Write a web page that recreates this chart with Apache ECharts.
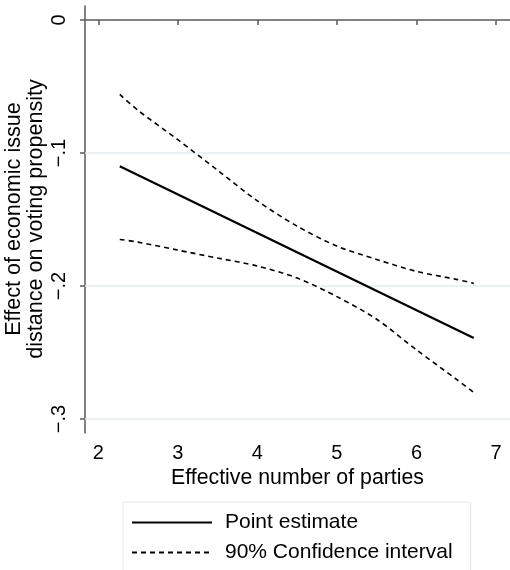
<!DOCTYPE html>
<html>
<head>
<meta charset="utf-8">
<script src="https://cdn.jsdelivr.net/npm/echarts@6/dist/echarts.min.js"></script>
<style>
  html, body { margin: 0; padding: 0; background: #fff; }
  #chart { width: 510px; height: 570px; }
</style>
</head>
<body>
<div id="chart"></div>
<script>
// effective number of parties (x)
const parties = [2.27, 2.5, 3, 3.5, 4, 4.5, 5, 5.5, 6, 6.5, 6.72];
// 90% bounds of the marginal effect
const upperCI = [-0.056, -0.068, -0.090, -0.113, -0.136, -0.155, -0.170, -0.180, -0.189, -0.195, -0.198];
const lowerCI = [-0.165, -0.167, -0.173, -0.179, -0.185, -0.194, -0.208, -0.225, -0.248, -0.270, -0.280];
// point estimate is a straight line, so its two ends are enough
const pointX = [2.27, 6.72];
const pointEst = [-0.110, -0.239];

const xTicks = [2, 3, 4, 5, 6, 7];
const yTicks = [0, -0.1, -0.2, -0.3];
const yGrid = [-0.1, -0.2, -0.3];

const FONT = 'Liberation Sans, Arial, sans-serif';
const AXIS_COLOR = '#5a5a5a';

const zip = (xs, ys) => xs.map((x, i) => [x, ys[i]]);
const fmtY = v => v === 0 ? '0' : '\u2212' + String(Math.abs(v)).replace(/^0/, '');

const chart = echarts.init(document.getElementById('chart'), null, { renderer: 'canvas' });

chart.setOption({
  backgroundColor: '#fff',
  animation: false,
  grid: { left: 85, right: 0, top: 6, bottom: 137 },
  xAxis: {
    type: 'value',
    min: 1.833,
    max: 7.176,
    axisLine: { show: true, lineStyle: { color: AXIS_COLOR, width: 1.5 } },
    axisTick: { show: true, length: 5, customValues: xTicks, lineStyle: { color: AXIS_COLOR, width: 1.5 } },
    axisLabel: { customValues: xTicks, margin: 10, fontSize: 20, color: '#000', fontFamily: FONT },
    splitLine: { show: false },
    name: 'Effective number of parties',
    nameLocation: 'middle',
    nameGap: 34,
    nameTextStyle: { fontSize: 21.3, color: '#000', fontFamily: FONT }
  },
  yAxis: {
    type: 'value',
    min: -0.3105,
    max: 0.0105,
    axisLine: { show: true, lineStyle: { color: AXIS_COLOR, width: 1.5 } },
    axisTick: { show: true, length: 5, customValues: yTicks, lineStyle: { color: AXIS_COLOR, width: 1.5 } },
    axisLabel: {
      customValues: yTicks,
      rotate: 90,
      margin: 16,
      fontSize: 20,
      color: '#000',
      fontFamily: FONT,
      formatter: fmtY
    },
    splitLine: { show: false }
  },
  legend: {
    orient: 'vertical',
    left: 123,
    top: 502,
    height: 80,
    itemWidth: 80,
    itemHeight: 14,
    itemGap: 9,
    padding: [10, 18, 10, 8],
    borderColor: '#e2eaec',
    borderWidth: 1,
    selectedMode: false,
    itemStyle: { opacity: 0 },
    textStyle: { fontSize: 21, color: '#000', fontFamily: FONT, padding: [0, 0, 0, 8] },
    data: ['Point estimate', '90% Confidence interval']
  },
  graphic: [{
    type: 'text',
    x: 25,
    y: 219,
    rotation: Math.PI / 2,
    style: {
      text: 'Effect of economic issue\ndistance on voting propensity',
      fontSize: 21.6,
      lineHeight: 22,
      fontFamily: FONT,
      fill: '#000',
      align: 'center',
      verticalAlign: 'middle'
    }
  }],
  series: [
    {
      name: '90% Confidence interval',
      type: 'line',
      data: zip(parties, lowerCI),
      smooth: 0.3,
      symbol: 'none',
      itemStyle: { color: '#000' },
      lineStyle: { color: '#000', width: 1.6, type: [5, 4] },
      z: 3
    },
    {
      name: '90% Confidence interval',
      type: 'line',
      data: zip(parties, upperCI),
      smooth: 0.3,
      symbol: 'none',
      itemStyle: { color: '#000' },
      lineStyle: { color: '#000', width: 1.6, type: [5, 4] },
      z: 3
    },
    {
      name: 'Point estimate',
      type: 'line',
      data: zip(pointX, pointEst),
      symbol: 'none',
      itemStyle: { color: '#000' },
      lineStyle: { color: '#000', width: 2.2 },
      z: 4,
      markLine: {
        silent: true,
        symbol: 'none',
        label: { show: false },
        data: [
          ...yGrid.map(v => ({ yAxis: v, lineStyle: { color: '#e6eef0', width: 1.5, type: 'solid' } })),
          { yAxis: 0, lineStyle: { color: '#888', width: 1.2, type: [1.2, 3.8] } }
        ],
        z: 1
      }
    }
  ]
});

window.addEventListener('resize', () => chart.resize());
</script>
</body>
</html>
